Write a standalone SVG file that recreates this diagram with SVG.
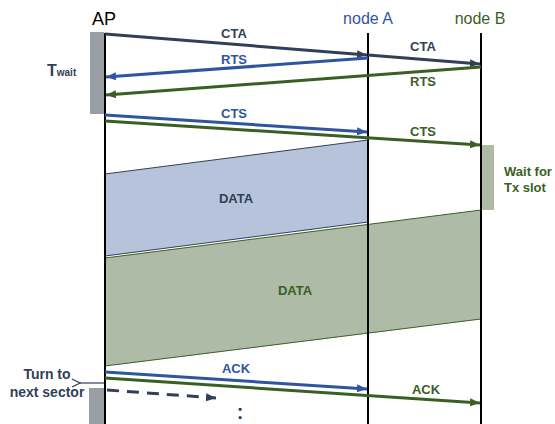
<svg xmlns="http://www.w3.org/2000/svg" width="555" height="424" viewBox="0 0 555 424">
<style>
.lbl{font-family:"Liberation Sans",Arial,sans-serif;font-weight:bold;font-size:13px;text-anchor:middle}
.navy{fill:#323F58}.blue{fill:#2F55A0}.green{fill:#3A5F25}
.msg{fill:none;stroke-width:3}
.life{stroke:#000;stroke-width:2}
</style>
<defs>
<marker id="aN" viewBox="0 0 10 8" refX="10" refY="4" markerWidth="10" markerHeight="8" markerUnits="userSpaceOnUse" orient="auto"><path d="M0,0L10,4L0,8z" fill="#323F58"/></marker>
<marker id="aB" viewBox="0 0 10 8" refX="10" refY="4" markerWidth="10" markerHeight="8" markerUnits="userSpaceOnUse" orient="auto"><path d="M0,0L10,4L0,8z" fill="#2F55A0"/></marker>
<marker id="aG" viewBox="0 0 10 8" refX="10" refY="4" markerWidth="10" markerHeight="8" markerUnits="userSpaceOnUse" orient="auto"><path d="M0,0L10,4L0,8z" fill="#3A5F25"/></marker>
<marker id="aO" viewBox="0 0 10 10" refX="1" refY="5" markerWidth="10" markerHeight="10" markerUnits="userSpaceOnUse" orient="auto"><path d="M9,1L1,5L9,9" fill="none" stroke="#323F58" stroke-width="1.2"/></marker>
</defs>

<g id="AP">
<rect x="90" y="32" width="14" height="82" fill="#9A9EA5"/>
<rect x="89" y="388" width="15" height="36" fill="#9A9EA5"/>
<text x="104" y="25" font-family="Liberation Sans,Arial,sans-serif" font-size="18" text-anchor="middle" fill="#000">AP</text>
<text x="47" y="76" font-family="Liberation Sans,Arial,sans-serif" font-size="16" font-weight="bold" fill="#323F58">T<tspan font-size="10">wait</tspan></text>
</g>

<g id="nodeB">
<rect x="481" y="145" width="13" height="65" fill="#AEBBA4"/>
<text x="480" y="24" font-family="Liberation Sans,Arial,sans-serif" font-size="16" text-anchor="middle" fill="#3A5F25">node B</text>
<text class="lbl green" x="504" y="176" style="text-anchor:start">Wait for</text>
<text class="lbl green" x="504" y="192" style="text-anchor:start">Tx slot</text>
</g>

<g id="nodeA">
<text x="368" y="24" font-family="Liberation Sans,Arial,sans-serif" font-size="16" text-anchor="middle" fill="#2F55A0">node A</text>
</g>

<g id="data-blue">
<polygon points="105,174 368,140 368,222 105,256" fill="#B6C3DB" stroke="#323F58" stroke-width="1"/>
<text class="lbl navy" x="236" y="203">DATA</text>
</g>

<g id="data-green">
<polygon points="105,258 481,210 481,319 105,366" fill="#AEBBA6" stroke="#3A5F25" stroke-width="1"/>
<text class="lbl green" x="295" y="295">DATA</text>
</g>

<g id="lifelines">
<line class="life" x1="105" y1="33" x2="105" y2="424"/>
<line class="life" x1="368" y1="33" x2="368" y2="424"/>
<line class="life" x1="481" y1="33" x2="481" y2="424"/>
</g>

<g id="connectors">
<line class="msg" x1="105" y1="34" x2="367" y2="55" stroke="#323F58" marker-end="url(#aN)"/>
<line class="msg" x1="368" y1="55" x2="480" y2="64" stroke="#323F58" marker-end="url(#aN)"/>
<line class="msg" x1="368" y1="58" x2="106" y2="77" stroke="#2F55A0" marker-end="url(#aB)"/>
<line class="msg" x1="481" y1="67" x2="106" y2="95" stroke="#3A5F25" marker-end="url(#aG)"/>
<line class="msg" x1="105" y1="115" x2="367" y2="132" stroke="#2F55A0" marker-end="url(#aB)"/>
<line class="msg" x1="105" y1="121" x2="480" y2="145" stroke="#3A5F25" marker-end="url(#aG)"/>
<line class="msg" x1="105" y1="372" x2="367" y2="389" stroke="#2F55A0" marker-end="url(#aB)"/>
<line class="msg" x1="105" y1="378" x2="480" y2="403" stroke="#3A5F25" marker-end="url(#aG)"/>
<line x1="104" y1="383" x2="80" y2="383" stroke="#323F58" stroke-width="1.2" marker-end="url(#aO)"/>
<line class="msg" x1="107" y1="390" x2="216" y2="398" stroke="#323F58" stroke-dasharray="12,8" marker-end="url(#aN)"/>
</g>

<g id="labels">
<text class="lbl navy" x="234" y="38">CTA</text>
<text class="lbl navy" x="423" y="51">CTA</text>
<text class="lbl blue" x="234" y="64">RTS</text>
<text class="lbl green" x="423" y="86">RTS</text>
<text class="lbl blue" x="234" y="118">CTS</text>
<text class="lbl green" x="423" y="136">CTS</text>
<text class="lbl blue" x="236" y="373">ACK</text>
<text class="lbl green" x="426" y="394">ACK</text>
<text class="lbl navy" x="47" y="379" style="font-size:14px">Turn to</text>
<text class="lbl navy" x="47" y="397" style="font-size:14px">next sector</text>
<text class="lbl navy" x="240" y="419" style="font-size:20px">:</text>
</g>
</svg>
